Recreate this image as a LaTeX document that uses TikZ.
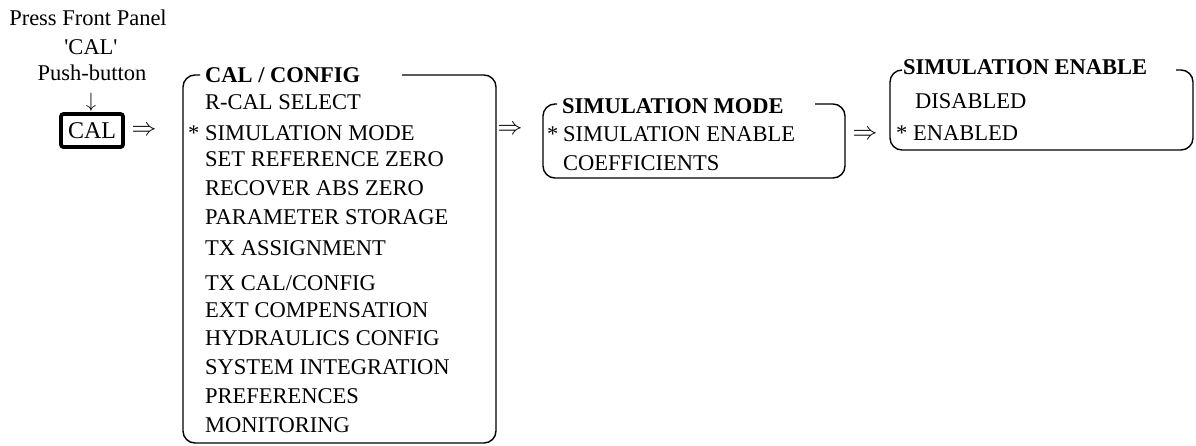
\documentclass[tikz,border=0pt]{standalone}
\usepackage{fontspec}
\setmainfont{Liberation Serif}
\begin{document}
\begin{tikzpicture}[x=1pt,y=-1pt,
  txt/.style={inner sep=0pt, anchor=base west, font=\fontsize{22.5}{27}\selectfont},
  ttl/.style={txt, font=\fontsize{22.5}{27}\selectfont\bfseries},
  hdr/.style={inner sep=0pt, anchor=base, font=\fontsize{22.5}{27}\selectfont},
  arr/.style={inner sep=0pt, anchor=center, font=\fontsize{26}{30}\selectfont},
  darr/.style={inner sep=0pt, anchor=center, font=\fontsize{20}{24}\selectfont},
  frame/.style={line width=1.4pt, rounded corners=12pt},
  button/.style={draw, line width=3.8pt, rounded corners=2.5pt, minimum width=62pt, minimum height=33pt, inner sep=0pt, font=\fontsize{24}{28}\selectfont}]
\useasboundingbox (0,0) rectangle (1196,445);

% header
\node[hdr] (h1) at (88,25) {Press Front Panel};
\node[hdr] (h2) at (91,54) {\textquotesingle CAL\textquotesingle};
\node[hdr] (h3) at (92,80) {Push-button};
\node[darr] (down) at (91,102) {$\downarrow$};
\node[button] (cal) at (92,130.5) {CAL};
\node[arr] (a1) at (144,131) {$\Rightarrow$};

% box 1
\node[ttl] (t1) at (205,82.5) {CAL / CONFIG};
\node[txt] (r1) at (205,109.5) {R-CAL SELECT};
\node[txt] (s1) at (188,140.5) {*};
\node[txt] (r2) at (205,140.5) {SIMULATION MODE};
\node[txt] (r3) at (205,166.5) {SET REFERENCE ZERO};
\node[txt] (r4) at (205,195.5) {RECOVER ABS ZERO};
\node[txt] (r5) at (205,224.5) {PARAMETER STORAGE};
\node[txt] (r6) at (205,255.5) {TX ASSIGNMENT};
\node[txt] (r7) at (205,290.5) {TX CAL/CONFIG};
\node[txt] (r8) at (205,317.5) {EXT COMPENSATION};
\node[txt] (r9) at (205,345.5) {HYDRAULICS CONFIG};
\node[txt] (r10) at (205,374.5) {SYSTEM INTEGRATION};
\node[txt] (r11) at (205,403.5) {PREFERENCES};
\node[txt] (r12) at (205,432.5) {MONITORING};
\draw[frame] (200,75) -- (183,75) -- (183,443) -- (496,443) -- (496,75) -- (402,75);
\node[arr] (a2) at (510,130) {$\Rightarrow$};

% box 2
\node[ttl] (t2) at (562,113.5) {SIMULATION MODE};
\node[txt] (s2) at (547,141.5) {*};
\node[txt] (q1) at (563,141.5) {SIMULATION ENABLE};
\node[txt] (q2) at (563,170.5) {COEFFICIENTS};
\draw[frame] (557,104) -- (543,104) -- (543,178) -- (845,178) -- (845,104) -- (815,104);
\node[arr] (a3) at (865,135) {$\Rightarrow$};

% box 3
\node[ttl] (t3) at (903,74.5) {SIMULATION ENABLE};
\node[txt] (p1) at (915,108.5) {DISABLED};
\node[txt] (s3) at (896,140.5) {*};
\node[txt] (p2) at (913,140.5) {ENABLED};
\draw[frame] (902,70) -- (890,70) -- (890,150) -- (1193,150) -- (1193,70) -- (1176,70);
\end{tikzpicture}
\end{document}
